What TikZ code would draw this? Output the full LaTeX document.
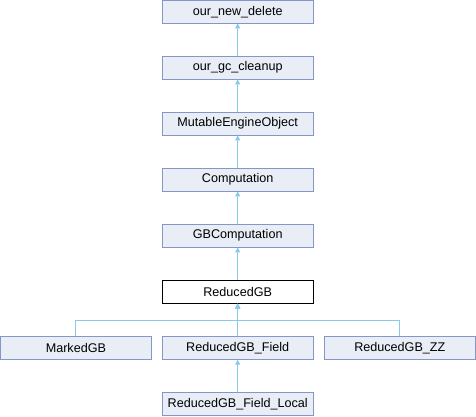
\documentclass[tikz,border=0pt]{standalone}
\usepackage{fontspec}
\setmainfont{Liberation Sans}
\usetikzlibrary{arrows.meta}
\definecolor{boxfill}{HTML}{E8EDF6}
\definecolor{boxdraw}{HTML}{8497C8}
\definecolor{arrcol}{HTML}{8CC8EA}
\begin{document}
\begin{tikzpicture}[x=1pt,y=-1pt,
  cls/.style={draw=boxdraw,fill=boxfill,line width=0.9pt,minimum width=151pt,minimum height=22.5pt,inner sep=0pt,font=\fontsize{12.6}{14}\selectfont},
  cur/.style={cls,draw=black,fill=white},
  arr/.style={draw=arrcol,line width=0.9pt,-{Triangle[width=5pt,length=5pt]}}]
\useasboundingbox (0,0) rectangle (476,416);
\node[cls] (ond) at (237.7,11.7) {our\_new\_delete};
\node[cls] (ogc) at (237.7,67.7) {our\_gc\_cleanup};
\node[cls] (meo) at (237.7,123.7) {MutableEngineObject};
\node[cls] (comp) at (237.7,179.7) {Computation};
\node[cls] (gbc) at (237.7,235.7) {GBComputation};
\node[cur] (rgb) at (237.7,291.8) {ReducedGB};
\node[cls] (mk) at (75.9,348) {MarkedGB};
\node[cls] (rgf) at (237.7,348) {ReducedGB\_Field};
\node[cls] (rzz) at (399.8,348) {ReducedGB\_ZZ};
\node[cls] (rgfl) at (237.7,403.7) {ReducedGB\_Field\_Local};
\coordinate (bus) at (237.7,320.3);
\draw[arr] (ogc.north) -- (ond.south);
\draw[arr] (meo.north) -- (ogc.south);
\draw[arr] (comp.north) -- (meo.south);
\draw[arr] (gbc.north) -- (comp.south);
\draw[arr] (rgb.north) -- (gbc.south);
\draw[arr] (mk.north) |- (bus) -- (rgb.south);
\draw[arr] (rzz.north) |- (bus) -- (rgb.south);
\draw[arr] (rgf.north) -- (rgb.south);
\draw[arr] (rgfl.north) -- (rgf.south);
\end{tikzpicture}
\end{document}
